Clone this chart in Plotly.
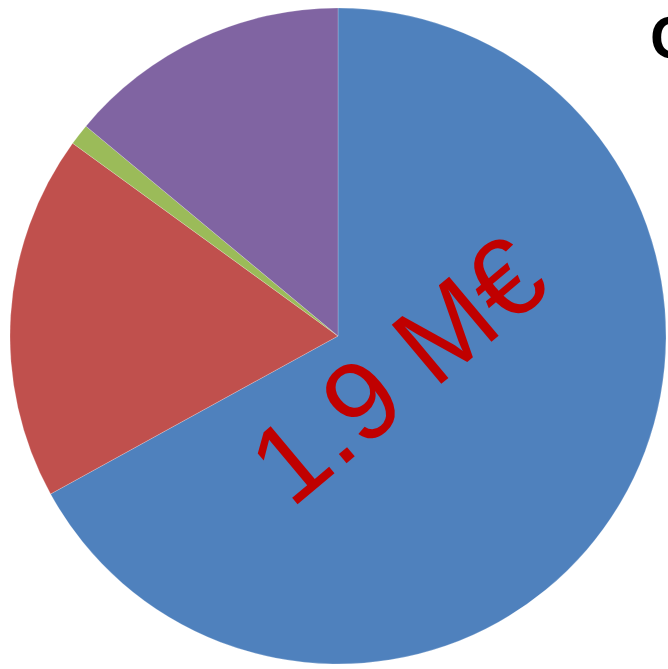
import plotly.graph_objects as go

# Budget breakdown (share of total, %)
categories = ["A", "B", "C", "D"]
shares = [67.0, 18.0, 1.05, 13.95]
colors = ["#4F81BD", "#C0504D", "#9BBB59", "#8064A2"]
total_label = "1.9 M€"
title_text = "C"

W, H = 668, 669
cx, cy, r = 338, 336, 328  # pie centre / radius in pixels

fig = go.Figure(
    go.Pie(
        labels=categories,
        values=shares,
        sort=False,
        direction="clockwise",
        rotation=0,
        marker=dict(colors=colors, line=dict(color="rgba(255,255,255,0.35)", width=0.6)),
        textinfo="none",
        hoverinfo="label+percent",
        domain=dict(
            x=[(cx - r) / W, (cx + r) / W],
            y=[(H - cy - r) / H, (H - cy + r) / H],
        ),
        showlegend=False,
    )
)

fig.add_annotation(
    text=total_label,
    x=397 / W,
    y=1 - 370 / H,
    xref="paper",
    yref="paper",
    showarrow=False,
    textangle=-40,
    font=dict(family="Liberation Sans, Arial, sans-serif", size=112, color="#C00000"),
)

fig.add_annotation(
    text=f"<b>{title_text}</b>",
    x=648 / W,
    y=1 - 38 / H,
    xref="paper",
    yref="paper",
    xanchor="left",
    yanchor="middle",
    showarrow=False,
    font=dict(family="Liberation Sans, Arial, sans-serif", size=60, color="#000000"),
)

fig.update_layout(
    width=W,
    height=H,
    margin=dict(l=0, r=0, t=0, b=0),
    paper_bgcolor="white",
    plot_bgcolor="white",
)

fig.write_html("out.html")
